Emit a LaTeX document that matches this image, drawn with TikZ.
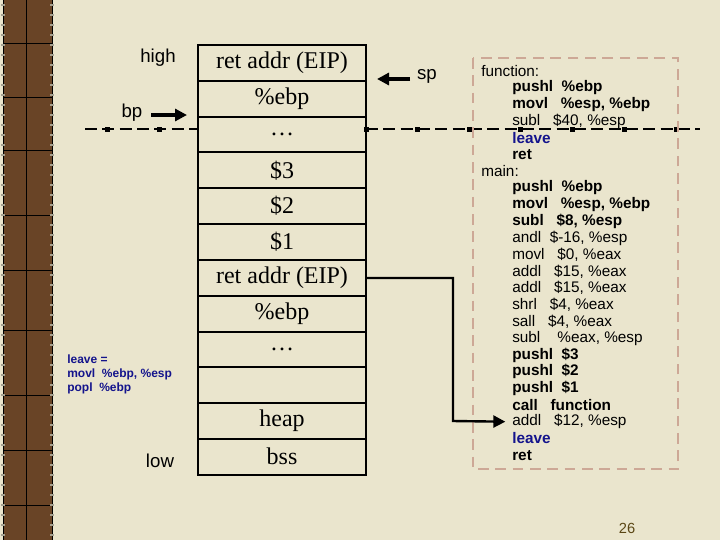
\documentclass[tikz,border=0pt]{standalone}
\usepackage{fontspec}
\usetikzlibrary{arrows.meta}
\setmainfont{Liberation Serif}
\newfontfamily\sansf{Liberation Sans}
\definecolor{bg}{RGB}{234,229,205}
\definecolor{strip}{RGB}{105,68,38}
\definecolor{boxc}{RGB}{205,168,150}
\definecolor{navy}{RGB}{20,20,140}
\definecolor{pnum}{RGB}{90,70,20}
\begin{document}
\begin{tikzpicture}[x=0.75pt,y=-0.75pt,
  cell/.style={font=\fontsize{18}{20}\selectfont},
  lab/.style={font=\sansf\fontsize{14}{16}\selectfont},
  code/.style={font=\sansf\fontsize{11.5}{13}\selectfont,anchor=west,inner sep=0pt},
  bc/.style={code,font=\sansf\bfseries\fontsize{11.5}{13}\selectfont},
  arr/.style={line width=2.6pt,-{Triangle[length=9pt,width=9pt]}}]
\fill[bg] (0,0) rectangle (720,540);
\useasboundingbox (0,0) rectangle (720,540);
% left strip
\fill[strip] (3,0) rectangle (52,540);
\draw[black,line width=0.6pt] (3,0) -- (3,540) (52,0) -- (52,540) (26,0) -- (26,540);
\foreach \y in {43,97,150,215,270,330,395,450,505}{\draw[black,line width=0.6pt] (3,\y) -- (52,\y);}
\foreach \y in {5,15,...,535}{\draw[bg!70!black,line width=1pt] (1,\y) -- (5,\y) (50,\y) -- (54,\y);}
% stack
\draw[line width=1.5pt] (198,45) rectangle (366,475);
\foreach \y in {81,117,152,188,224,260,296,332,367,403,439}{\draw[line width=0.8pt] (198,\y) -- (366,\y);}
\foreach \t [count=\i] in {ret addr (EIP),\%ebp,\ldots,\$3,\$2,\$1,ret addr (EIP),\%ebp,\ldots,{},heap,bss}
  {\node[cell] (c\i) at (282,{45+35.8*(\i-0.5)}) {\t};}
% dashed line
\draw[line width=0.8pt,dash pattern=on 9pt off 4pt] (85,129) -- (198,129) (366,129) -- (700,129);
\foreach \x in {107,159,366,417,469,520,572,624,676}{\fill (\x-2.5,126.5) rectangle (\x+2.5,131.5);}
% labels
\node[lab] (high) at (158,58) {high};
\node[lab] (bp) at (132,113) {bp};
\coordinate (bpt) at (187,115);
\draw[arr] (151,115) -- (bpt);
\node[lab] (low) at (160,461) {low};
\node[lab] (sp) at (427,76) {sp};
\coordinate (spt) at (377,79);
\draw[arr] (410,79) -- (spt);
\node[font=\sansf\bfseries\fontsize{9}{10.5}\selectfont,text=navy,align=left,anchor=north west,inner sep=0pt] (lv) at (67,355) {leave =\\movl \ \%ebp, \%esp\\popl \ \%ebp};
% code box
\draw[boxc,line width=1.5pt,dash pattern=on 8pt off 5pt] (473,58) rectangle (678,469);
\def\ly#1{71+16.7*#1}
\node[code] (l0) at (481,{\ly{0}}) {function:};
\node[bc] (l1) at (512,{\ly{1}}) {pushl \ \%ebp};
\node[bc] (l2) at (512,{\ly{2}}) {movl \ \ \%esp, \%ebp};
\node[code] (l3) at (512,{\ly{3}}) {subl \ \ \$40, \%esp};
\node[bc,text=navy] (l4) at (512,{\ly{4}}) {leave};
\node[bc] (l5) at (512,{\ly{5}}) {ret};
\node[code] (l6) at (481,{\ly{6}}) {main:};
\node[bc] (l7) at (512,{\ly{7}}) {pushl \ \%ebp};
\node[bc] (l8) at (512,{\ly{8}}) {movl \ \ \%esp, \%ebp};
\node[bc] (l9) at (512,{\ly{9}}) {subl \ \ \$8, \%esp};
\node[code] (l10) at (512,{\ly{10}}) {andl \ \$-16, \%esp};
\node[code] (l11) at (512,{\ly{11}}) {movl \ \ \$0, \%eax};
\node[code] (l12) at (512,{\ly{12}}) {addl \ \ \$15, \%eax};
\node[code] (l13) at (512,{\ly{13}}) {addl \ \ \$15, \%eax};
\node[code] (l14) at (512,{\ly{14}}) {shrl \ \ \$4, \%eax};
\node[code] (l15) at (512,{\ly{15}}) {sall \ \ \$4, \%eax};
\node[code] (l16) at (512,{\ly{16}}) {subl \ \ \ \%eax, \%esp};
\node[bc] (l17) at (512,{\ly{17}}) {pushl \ \$3};
\node[bc] (l18) at (512,{\ly{18}}) {pushl \ \$2};
\node[bc] (l19) at (512,{\ly{19}}) {pushl \ \$1};
\node[bc] (l20) at (512,{\ly{20}}) {call \ \ function};
\node[code] (l21) at (512,{\ly{21}}) {addl \ \ \$12, \%esp};
\node[bc,text=navy] (l22) at (512,{\ly{22}}) {leave};
\node[bc] (l23) at (512,{\ly{23}}) {ret};
% return arrow
\draw[line width=1.8pt,-{Triangle[length=9pt,width=9pt]}] (366,278) -- (453,278) -- (453,421) -- ([xshift=-5pt]l21.west);
\node[font=\sansf\fontsize{11}{13}\selectfont,text=pnum] (pg) at (627,528) {26};
\end{tikzpicture}
\end{document}
